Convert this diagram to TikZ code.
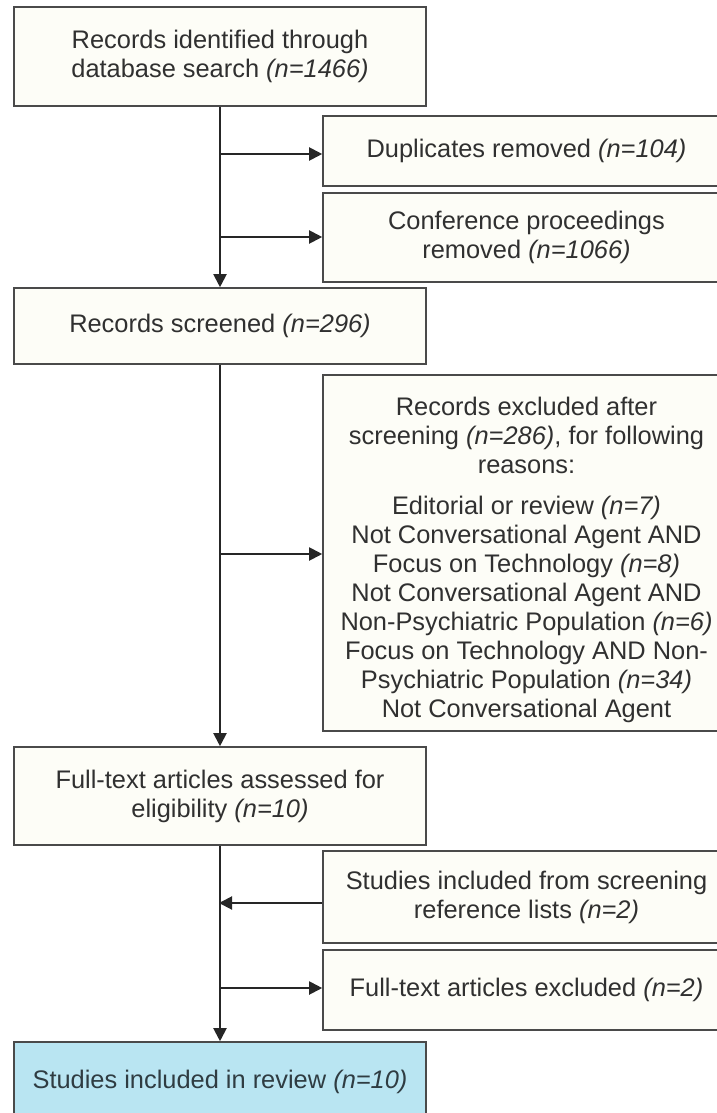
\documentclass[tikz,border=0pt]{standalone}
\usepackage{fontspec}
\setmainfont{Liberation Sans}
\usetikzlibrary{arrows.meta}
\definecolor{boxfill}{HTML}{FDFDF7}
\definecolor{boxline}{HTML}{4A4A4A}
\definecolor{finalfill}{HTML}{B9E5F2}
\definecolor{txt}{HTML}{303030}
\definecolor{finaltxt}{HTML}{2F3C42}
\definecolor{wire}{HTML}{262626}
\begin{document}
\begin{tikzpicture}[x=1pt,y=-1pt,
  box/.style={draw=boxline, line width=1.6pt, fill=boxfill, rectangle,
    inner sep=0pt, align=center, text=txt,
    font=\fontsize{25.4}{29}\selectfont},
  leftbox/.style={box, minimum width=412pt},
  rightbox/.style={box, minimum width=407pt},
  plaintext/.style={inner sep=0pt, align=center, text=txt,
    font=\fontsize{25.4}{29}\selectfont},
  flow/.style={draw=wire, line width=2pt,
    -{Triangle[length=13pt,width=13pt]}}]
\useasboundingbox (0,0) rectangle (717,1113);
\clip (0,0) rectangle (717,1113);

% main column
\node[leftbox, minimum height=99pt] (b1) at (220,56.5)
  {Records identified through\\database search \textit{(n=1466)}};
\node[leftbox, minimum height=76pt] (scr) at (220,326)
  {Records screened \textit{(n=296)}};
\node[leftbox, minimum height=98pt] (full) at (220,796)
  {Full-text articles assessed for\\eligibility \textit{(n=10)}};
\node[leftbox, minimum height=80pt, fill=finalfill, text=finaltxt] (fin) at (220,1082)
  {Studies included in review \textit{(n=10)}};

% side boxes
\node[rightbox, minimum height=70pt] (dup) at (526.5,151)
  {Duplicates removed \textit{(n=104)}};
\node[rightbox, minimum height=89pt] (conf) at (526.5,237.5)
  {Conference proceedings\\removed \textit{(n=1066)}};
\node[rightbox, minimum height=356pt] (excl) at (526.5,553) {};
\node[plaintext] (excltext) at (526.5,560)
  {Records excluded after\\
   screening \textit{(n=286)}, for following\\
   reasons:\\[12pt]
   Editorial or review \textit{(n=7)}\\
   Not Conversational Agent AND\\
   Focus on Technology \textit{(n=8)}\\
   Not Conversational Agent AND\\
   Non-Psychiatric Population \textit{(n=6)}\\
   Focus on Technology AND Non-\\
   Psychiatric Population \textit{(n=34)}\\
   Not Conversational Agent};
\node[rightbox, minimum height=92pt] (incl) at (526.5,897)
  {Studies included from screening\\reference lists \textit{(n=2)}};
\node[rightbox, minimum height=80pt] (ftx) at (526.5,990)
  {Full-text articles excluded \textit{(n=2)}};

% junctions on the main line
\coordinate (j1) at (219,154);
\coordinate (j2) at (219,237);
\coordinate (j3) at (219,554);
\coordinate (j4) at (219,903);
\coordinate (j5) at (219,988);

% vertical flow
\draw[flow] (b1.south) -- (scr.north);
\draw[flow] (scr.south) -- (full.north);
\draw[flow] (full.south) -- (fin.north);

% branches
\draw[flow] (j1) -- (j1 -| dup.west);
\draw[flow] (j2) -- (j2 -| conf.west);
\draw[flow] (j3) -- (j3 -| excl.west);
\draw[flow] (j4 -| incl.west) -- (j4);
\draw[flow] (j5) -- (j5 -| ftx.west);
\end{tikzpicture}
\end{document}
